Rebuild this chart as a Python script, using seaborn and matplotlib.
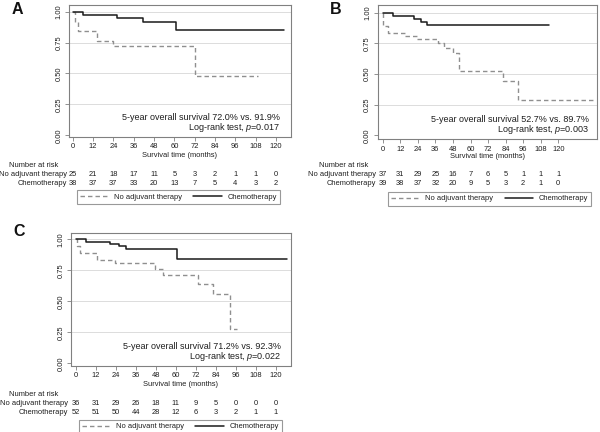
import matplotlib
matplotlib.use("Agg")
import matplotlib.pyplot as plt
import seaborn as sns
from matplotlib.lines import Line2D
from matplotlib import transforms

# ---------------- data ----------------
month_ticks = [0, 12, 24, 36, 48, 60, 72, 84, 96, 108, 120]
surv_ticks = [0.0, 0.25, 0.50, 0.75, 1.00]
surv_labels = ["0.00", "0.25", "0.50", "0.75", "1.00"]
group_labels = ["No adjuvant therapy", "Chemotherapy"]

# Panel A
a_noadj_t = [0, 1.5, 3.3, 14.2, 23.6, 72.2, 109.6]
a_noadj_s = [1.0, 0.92, 0.84, 0.76, 0.72, 0.48, 0.48]
a_chemo_t = [0, 6.3, 26.3, 41.7, 60.8, 125.0]
a_chemo_s = [1.0, 0.974, 0.947, 0.919, 0.848, 0.848]
a_risk_noadj = [25, 21, 18, 17, 11, 5, 3, 2, 1, 1, 0]
a_risk_chemo = [38, 37, 37, 33, 20, 13, 7, 5, 4, 3, 2]
a_text = ["5-year overall survival 72.0% vs. 91.9%", "Log-rank test, $p$=0.017"]

# Panel B
b_noadj_t = [0, 0.5, 3.9, 15.5, 23.7, 38.0, 41.9, 48.3, 52.4, 82.4, 92.2, 145.0]
b_noadj_s = [1.0, 0.892, 0.838, 0.811, 0.784, 0.75, 0.713, 0.675, 0.527, 0.44, 0.293, 0.293]
b_chemo_t = [0, 6.8, 21.4, 26.2, 30.0, 114.0]
b_chemo_s = [1.0, 0.974, 0.949, 0.923, 0.897, 0.897]
b_risk_noadj = [37, 31, 29, 25, 16, 7, 6, 5, 1, 1, 1]
b_risk_chemo = [39, 38, 37, 32, 20, 9, 5, 3, 2, 1, 0]
b_text = ["5-year overall survival 52.7% vs. 89.7%", "Log-rank test, $p$=0.003"]

# Panel C
c_noadj_t = [0, 1.0, 2.6, 12.6, 23.6, 47.5, 52.5, 73.1, 82.5, 92.5, 96.5]
c_noadj_s = [1.0, 0.944, 0.889, 0.836, 0.809, 0.763, 0.712, 0.637, 0.556, 0.274, 0.274]
c_chemo_t = [0, 6.2, 20.6, 26.0, 30.0, 60.5, 126.4]
c_chemo_s = [1.0, 0.981, 0.962, 0.942, 0.923, 0.839, 0.839]
c_risk_noadj = [36, 31, 29, 26, 18, 11, 9, 5, 0, 0, 0]
c_risk_chemo = [52, 51, 50, 44, 28, 12, 6, 3, 2, 1, 1]
c_text = ["5-year overall survival 71.2% vs. 92.3%", "Log-rank test, $p$=0.022"]

# ---------------- style ----------------
sns.set_style("white")
plt.rcParams["font.family"] = ["Liberation Sans", "DejaVu Sans"]
plt.rcParams["mathtext.fontset"] = "custom"
plt.rcParams["mathtext.rm"] = "Liberation Sans"
plt.rcParams["mathtext.it"] = "Liberation Sans:italic"

W, H = 600, 432
GRAY = "#8f8f8f"
BLACK = "#1a1a1a"
TXT = "#1e1e1e"
SPINE = "#808080"
FS = 5.4
DASH = (0, (3.2, 2.2))

fig = plt.figure(figsize=(W / 100, H / 100), dpi=100)


def fx(p):
    return p / W


def fy(p):
    return 1 - p / H


def panel(letter, letter_xy, box, xlim, ylim, noadj, chemo, risk, text, text_pos,
          risk_pos, legend_xy, xlabel_y):
    l, t, r, b = box
    ax = fig.add_axes([fx(l), fy(b), (r - l) / W, (b - t) / H])
    sns.lineplot(x=noadj[0], y=noadj[1], drawstyle="steps-post", estimator=None,
                 color=GRAY, linestyle=DASH, lw=1.0, ax=ax, zorder=3)
    sns.lineplot(x=chemo[0], y=chemo[1], drawstyle="steps-post", estimator=None,
                 color=BLACK, lw=1.1, ax=ax, zorder=4)
    ax.set_xlim(*xlim)
    ax.set_ylim(*ylim)
    ax.set_xticks(month_ticks)
    ax.set_xticklabels([str(m) for m in month_ticks])
    ax.set_yticks(surv_ticks)
    ax.set_yticklabels(surv_labels, rotation=90, va="center")
    ax.grid(axis="y", color="#dcdcdc", lw=0.7)
    ax.get_ygridlines()[0].set_visible(False)
    ax.set_axisbelow(True)
    ax.tick_params(axis="both", length=3, width=0.6, color=SPINE, pad=1.6,
                   labelsize=FS, labelcolor=TXT, direction="out",
                   bottom=True, left=True)
    for s in ax.spines.values():
        s.set_color(SPINE)
        s.set_linewidth(0.8)
    ax.set_ylabel("")
    ax.set_xlabel("Survival time (months)", fontsize=FS, color=TXT)
    ax.xaxis.set_label_coords(0.5, (b - xlabel_y) / (b - t))
    ax.xaxis.label.set_va("center")

    # annotation
    tx, ty1, ty2 = text_pos
    fig.text(fx(tx), fy(ty1), text[0], ha="right", va="center", fontsize=6.5, color=TXT)
    fig.text(fx(tx), fy(ty2), text[1], ha="right", va="center", fontsize=6.5, color=TXT)

    # panel letter
    fig.text(fx(letter_xy[0]), fy(letter_xy[1]), letter, ha="center", va="center",
             fontsize=11.5, fontweight="bold", color="#111111")

    # number at risk
    hx, hy, lab_r, ry1, ry2 = risk_pos
    fig.text(fx(hx), fy(hy), "Number at risk", ha="center", va="center", fontsize=FS, color=TXT)
    fig.text(fx(lab_r), fy(ry1), group_labels[0], ha="right", va="center", fontsize=FS, color=TXT)
    fig.text(fx(lab_r), fy(ry2), group_labels[1], ha="right", va="center", fontsize=FS, color=TXT)
    blend = transforms.blended_transform_factory(ax.transData, fig.transFigure)
    for m, n1, n2 in zip(month_ticks, risk[0], risk[1]):
        ax.text(m, fy(ry1), str(n1), transform=blend, ha="center", va="center",
                fontsize=FS, color=TXT, clip_on=False)
        ax.text(m, fy(ry2), str(n2), transform=blend, ha="center", va="center",
                fontsize=FS, color=TXT, clip_on=False)

    # legend
    handles = [Line2D([], [], color=GRAY, linestyle=DASH, lw=1.0),
               Line2D([], [], color=BLACK, lw=1.1)]
    leg = fig.legend(handles, group_labels, ncol=2, loc="center",
                     bbox_to_anchor=(fx(legend_xy[0]), fy(legend_xy[1])),
                     fontsize=FS, frameon=True, fancybox=False, edgecolor=SPINE,
                     handlelength=3.8, handletextpad=0.7, columnspacing=1.55,
                     borderpad=0.45, borderaxespad=0)
    leg.get_frame().set_linewidth(0.8)
    for txt in leg.get_texts():
        txt.set_color(TXT)
    return ax


panel("A", (17, 9.5), (69, 5, 291, 137), (-2.2, 128.9), (-0.014, 1.054),
      (a_noadj_t, a_noadj_s), (a_chemo_t, a_chemo_s), (a_risk_noadj, a_risk_chemo),
      a_text, (280, 117.3, 127.7), (33.5, 165.7, 66.7, 174.2, 183.2), (178.3, 197), 155.7)

panel("B", (336, 9.5), (377.5, 5, 597, 139.3), (-3.6, 146.5), (-0.031, 1.063),
      (b_noadj_t, b_noadj_s), (b_chemo_t, b_chemo_s), (b_risk_noadj, b_risk_chemo),
      b_text, (589, 119.3, 129.3), (343.5, 165.5, 376.5, 174.5, 183.0), (489.5, 198.7), 156.5)

panel("C", (19, 231.5), (71, 233.3, 290.7, 365.5), (-2.8, 128.8), (-0.018, 1.048),
      (c_noadj_t, c_noadj_s), (c_chemo_t, c_chemo_s), (c_risk_noadj, c_risk_chemo),
      c_text, (281, 346.5, 356.5), (34, 394.3, 67.7, 403.3, 412.7), (180.3, 426.5), 384.0)

fig.savefig("out.png", dpi=100)
